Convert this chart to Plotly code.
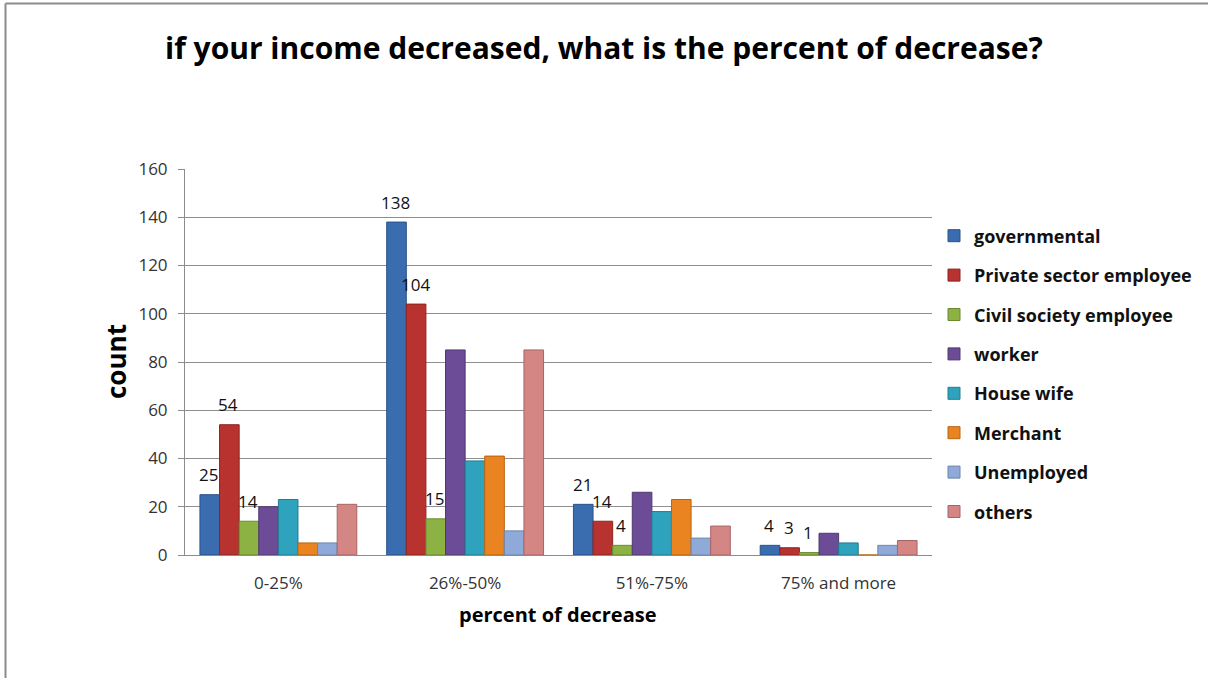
import plotly.graph_objects as go

# Income-decrease survey: counts per occupation within each decrease band
categories = ["0-25%", "26%-50%", "51%-75%", "75% and more"]

governmental = [25, 138, 21, 4]
private_sector = [54, 104, 14, 3]
civil_society = [14, 15, 4, 1]
worker = [20, 85, 26, 9]
house_wife = [23, 39, 18, 5]
merchant = [5, 41, 23, 0]
unemployed = [5, 10, 7, 4]
others = [21, 85, 12, 6]

series_names = [
    "governmental", "Private sector employee", "Civil society employee",
    "worker", "House wife", "Merchant", "Unemployed", "others",
]
series_values = [
    governmental, private_sector, civil_society, worker,
    house_wife, merchant, unemployed, others,
]
series_colors = [
    "#3A6DB0", "#B8322F", "#8DB244", "#6C4C97",
    "#2FA2BE", "#EA8420", "#8FAAD9", "#D48685",
]
outline_colors = [
    "#2A5288", "#8C2422", "#6A8A30", "#503872",
    "#227C92", "#B86412", "#6C84AE", "#A86464",
]
# series whose values are printed above the bars
labelled = {"governmental", "Private sector employee", "Civil society employee"}

W, H = 1208, 678
FONT = "Open Sans"

fig = go.Figure()
for name, vals, col, oc in zip(series_names, series_values, series_colors, outline_colors):
    fig.add_trace(go.Bar(
        name=name, x=categories, y=vals, legendgroup=name,
        marker=dict(color=col, line=dict(color=oc, width=1)),
    ))

# value labels, placed from the same values as the bars
n = len(series_names)
bargap = 0.16
group_w = 1 - bargap
bar_w = group_w / n
annotations = []
for j, (name, vals) in enumerate(zip(series_names, series_values)):
    if name not in labelled:
        continue
    for i, v in enumerate(vals):
        xpos = i - group_w / 2 + bar_w * (j + 0.5)
        annotations.append(dict(
            x=xpos, y=v, xref="x", yref="y", text=str(v), showarrow=False,
            yshift=20, xshift=-1, font=dict(family=FONT, size=17, color="#111111"),
        ))

# chart title and axis titles
annotations.append(dict(
    x=0.5, y=1 - 47 / H, xref="paper", yref="paper", showarrow=False,
    text="if your income decreased, what is the percent of decrease?",
    font=dict(family=FONT, size=30, color="#000000", weight="bold"),
    xanchor="center", yanchor="middle",
))
annotations.append(dict(
    x=116 / W, y=1 - 362 / H, xref="paper", yref="paper", showarrow=False,
    text="count", textangle=-90,
    font=dict(family=FONT, size=26, color="#000000", weight="bold"),
    xanchor="center", yanchor="middle",
))
annotations.append(dict(
    x=558 / W, y=1 - 614 / H, xref="paper", yref="paper", showarrow=False,
    text="percent of decrease",
    font=dict(family=FONT, size=20, color="#000000", weight="bold"),
    xanchor="center", yanchor="middle",
))

fig.update_layout(
    width=W, height=H,
    margin=dict(l=0, r=0, t=0, b=0, autoexpand=False),
    paper_bgcolor="white", plot_bgcolor="white",
    barmode="group", bargap=bargap, bargroupgap=0.0,
    font=dict(family=FONT, size=15, color="#333333"),
    showlegend=True,
    legend=dict(
        x=934 / W, y=1 - 374 / H, xanchor="left", yanchor="middle",
        font=dict(family=FONT, size=18, color="#111111", weight="bold"),
        tracegroupgap=13, traceorder="grouped",
        bgcolor="rgba(0,0,0,0)",
    ),
    xaxis=dict(
        domain=[185 / W, 932 / W], type="category", automargin=False,
        showline=True, linecolor="#8c8c8c", linewidth=1,
        ticks="outside", ticklen=13, tickcolor="rgba(0,0,0,0)",
        tickfont=dict(family=FONT, size=17, color="#333333"),
        showgrid=False,
    ),
    yaxis=dict(
        domain=[1 - 555 / H, 1 - 169 / H], range=[0, 160], dtick=20,
        automargin=False,
        showline=True, linecolor="#8c8c8c", linewidth=1,
        ticks="outside", ticklen=6, tickcolor="#8c8c8c",
        ticklabelstandoff=7,
        gridcolor="#8f8f8f", gridwidth=1,
        tickfont=dict(family=FONT, size=17, color="#333333"),
        zeroline=False,
    ),
    annotations=annotations,
    shapes=[
        dict(type="line", xref="paper", yref="paper",
             x0=5.5 / W, x1=5.5 / W, y0=0, y1=1 - 3.5 / H,
             line=dict(color="#8c8c8c", width=2)),
        dict(type="line", xref="paper", yref="paper",
             x0=5.5 / W, x1=1, y0=1 - 3.5 / H, y1=1 - 3.5 / H,
             line=dict(color="#8c8c8c", width=2)),
    ],
)

fig.write_html("out.html")
